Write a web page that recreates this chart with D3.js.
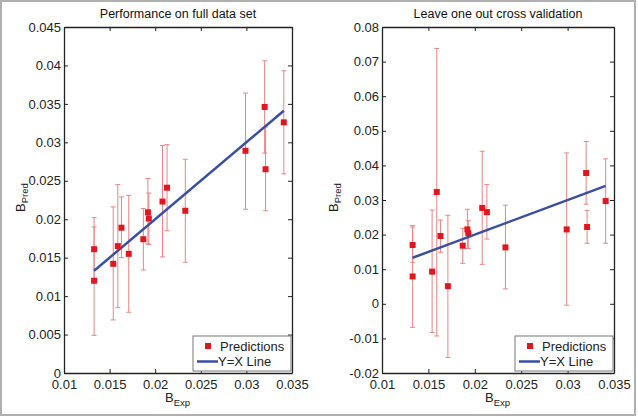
<!DOCTYPE html>
<html>
<head>
<meta charset="utf-8">
<script src="https://cdn.jsdelivr.net/npm/d3@7"></script>
<style>
  html, body { margin: 0; padding: 0; background: #fff; }
  svg { display: block; font-family: Arial, "Liberation Sans", Helvetica, sans-serif; }
</style>
</head>
<body>
<svg id="chart" width="638" height="417"></svg>
<script>
// ---------- DATA ----------
const bExp = [0.0133, 0.0133, 0.0154, 0.0159, 0.0163, 0.0171, 0.0187, 0.0192,
              0.0193, 0.0208, 0.0213, 0.0233, 0.0299, 0.0320, 0.0321, 0.0341];

// Panel 1: performance on full data set
const fullPred = [0.0161, 0.0120, 0.0142, 0.0165, 0.0189, 0.0155, 0.0174, 0.0209,
                  0.0201, 0.0223, 0.0241, 0.0211, 0.0289, 0.0346, 0.0265, 0.0326];
const fullLow  = [0.0120, 0.0049, 0.0069, 0.0085, 0.0150, 0.0079, 0.0134, 0.0168,
                  0.0167, 0.0151, 0.0185, 0.0144, 0.0213, 0.0286, 0.0211, 0.0259];
const fullHigh = [0.0202, 0.0190, 0.0216, 0.0245, 0.0229, 0.0231, 0.0214, 0.0253,
                  0.0234, 0.0296, 0.0297, 0.0278, 0.0364, 0.0406, 0.0320, 0.0393];

// Panel 2: leave one out cross validation
const looPred = [0.0170, 0.0079, 0.0093, 0.0323, 0.0196, 0.0051, 0.0168, 0.0215,
                 0.0204, 0.0277, 0.0265, 0.0163, 0.0215, 0.0378, 0.0222, 0.0297];
const looLow  = [0.0120, -0.0068, -0.0083, -0.0093, 0.0149, -0.0155, 0.0117, 0.0160,
                 0.0160, 0.0114, 0.0187, 0.0043, -0.0004, 0.0288, 0.0175, 0.0175];
const looHigh = [0.0222, 0.0226, 0.0271, 0.0738, 0.0242, 0.0256, 0.0218, 0.0273,
                 0.0240, 0.0441, 0.0345, 0.0285, 0.0436, 0.0469, 0.0270, 0.0419];

const xTicks = [0.01, 0.015, 0.02, 0.025, 0.03, 0.035];
const xTickLabels = ["0.01", "0.015", "0.02", "0.025", "0.03", "0.035"];
const yTicksFull = [0, 0.005, 0.01, 0.015, 0.02, 0.025, 0.03, 0.035, 0.04, 0.045];
const yTickLabelsFull = ["0", "0.005", "0.01", "0.015", "0.02", "0.025", "0.03", "0.035", "0.04", "0.045"];
const yTicksLoo = [-0.02, -0.01, 0, 0.01, 0.02, 0.03, 0.04, 0.05, 0.06, 0.07, 0.08];
const yTickLabelsLoo = ["-0.02", "-0.01", "0", "0.01", "0.02", "0.03", "0.04", "0.05", "0.06", "0.07", "0.08"];

const titles = ["Performance on full data set", "Leave one out cross validation"];
const legendLabels = ["Predictions", "Y=X Line"];

// ---------- DRAW ----------
const svg = d3.select("#chart");

// outer frame
svg.append("rect").attr("x", 1).attr("y", 1).attr("width", 634).attr("height", 414)
  .attr("fill", "none").attr("stroke", "#b0b0b0").attr("stroke-width", 2);

const RED = "#e3161f";
const ERR = "#e88585";
const BLUE = "#3a4fa3";

function panel(cfg) {
  const x = d3.scaleLinear().domain([0.01, 0.035]).range([cfg.left, cfg.right]);
  const y = d3.scaleLinear().domain(cfg.yDomain).range([cfg.bottom, cfg.top]);
  const g = svg.append("g");

  // title
  g.append("text").attr("x", (cfg.left + cfg.right) / 2).attr("y", 18)
    .attr("text-anchor", "middle").attr("font-size", 12.5).attr("fill", "#111")
    .text(cfg.title);

  // error bars
  const eg = g.append("g").attr("stroke", ERR).attr("stroke-width", 1).attr("fill", "none");
  bExp.forEach((xv, i) => {
    const px = x(xv);
    eg.append("line").attr("x1", px).attr("x2", px).attr("y1", y(cfg.low[i])).attr("y2", y(cfg.high[i]));
    [cfg.low[i], cfg.high[i]].forEach(v => {
      eg.append("line").attr("x1", px - 2.5).attr("x2", px + 2.5).attr("y1", y(v)).attr("y2", y(v));
    });
  });

  // Y = X line
  const ext = d3.extent(bExp);
  g.append("path")
    .datum(ext)
    .attr("d", d3.line().x(d => x(d)).y(d => y(d)))
    .attr("stroke", BLUE).attr("stroke-width", 2.5).attr("fill", "none");

  // markers
  g.append("g").selectAll("rect").data(bExp).join("rect")
    .attr("x", d => x(d) - 3).attr("y", (d, i) => y(cfg.pred[i]) - 3)
    .attr("width", 6).attr("height", 6).attr("fill", RED);

  // axes (box with inward ticks)
  const tl = 4;
  const axB = d3.axisBottom(x).tickValues(xTicks).tickFormat((d, i) => xTickLabels[i]).tickSizeInner(-tl).tickSizeOuter(0).tickPadding(6.5);
  const axT = d3.axisTop(x).tickValues(xTicks).tickFormat("").tickSizeInner(-tl).tickSizeOuter(0);
  const axL = d3.axisLeft(y).tickValues(cfg.yTicks).tickFormat((d, i) => cfg.yLabels[i]).tickSizeInner(-tl).tickSizeOuter(0).tickPadding(3);
  const axR = d3.axisRight(y).tickValues(cfg.yTicks).tickFormat("").tickSizeInner(-tl).tickSizeOuter(0);

  const styleAxis = sel => {
    sel.select(".domain").attr("stroke", "#222").attr("stroke-width", 1.3);
    sel.selectAll(".tick line").attr("stroke", "#222");
    sel.selectAll(".tick text").attr("font-size", 13).attr("fill", "#222")
      .attr("font-family", "Arial, 'Liberation Sans', sans-serif");
  };
  g.append("g").attr("transform", `translate(0,${cfg.bottom})`).call(axB).call(styleAxis);
  g.append("g").attr("transform", `translate(0,${cfg.top})`).call(axT).call(styleAxis);
  g.append("g").attr("transform", `translate(${cfg.left},0)`).call(axL).call(styleAxis);
  g.append("g").attr("transform", `translate(${cfg.right},0)`).call(axR).call(styleAxis);

  // x label
  const xl = g.append("text").attr("x", (cfg.left + cfg.right) / 2 - 13).attr("y", 401.5)
    .attr("font-size", 13).attr("fill", "#222");
  xl.append("tspan").text("B");
  xl.append("tspan").attr("dy", 4).attr("font-size", 9.5).text("Exp");

  // y label
  const yl = g.append("text")
    .attr("transform", `translate(${cfg.yLabelX},${(cfg.top + cfg.bottom) / 2 + 12}) rotate(-90)`)
    .attr("font-size", 13).attr("fill", "#222");
  yl.append("tspan").text("B");
  yl.append("tspan").attr("dy", 3).attr("font-size", 9.5).text("Pred");

  // legend
  const lw = 98, lh = 35;
  const lx = cfg.right - lw - 1, ly = cfg.bottom - lh - 2;
  const lg = g.append("g");
  lg.append("rect").attr("x", lx).attr("y", ly).attr("width", lw).attr("height", lh)
    .attr("fill", "#fff").attr("stroke", "#777").attr("stroke-width", 1);
  lg.append("rect").attr("x", lx + 12).attr("y", ly + 7).attr("width", 6).attr("height", 6).attr("fill", RED);
  lg.append("text").attr("x", lx + 27).attr("y", ly + 15).attr("font-size", 13).attr("fill", "#222").text(legendLabels[0]);
  lg.append("line").attr("x1", lx + 4).attr("x2", lx + 25).attr("y1", ly + 25.5).attr("y2", ly + 25.5)
    .attr("stroke", BLUE).attr("stroke-width", 2.5);
  lg.append("text").attr("x", lx + 25).attr("y", ly + 30).attr("font-size", 13).attr("fill", "#222").text(legendLabels[1]);
}

panel({
  left: 64, right: 292, top: 27, bottom: 373, yLabelX: 25,
  yDomain: [0, 0.045], yTicks: yTicksFull, yLabels: yTickLabelsFull,
  pred: fullPred, low: fullLow, high: fullHigh, title: titles[0]
});
panel({
  left: 382, right: 614, top: 27, bottom: 373, yLabelX: 338,
  yDomain: [-0.02, 0.08], yTicks: yTicksLoo, yLabels: yTickLabelsLoo,
  pred: looPred, low: looLow, high: looHigh, title: titles[1]
});
</script>
</body>
</html>
